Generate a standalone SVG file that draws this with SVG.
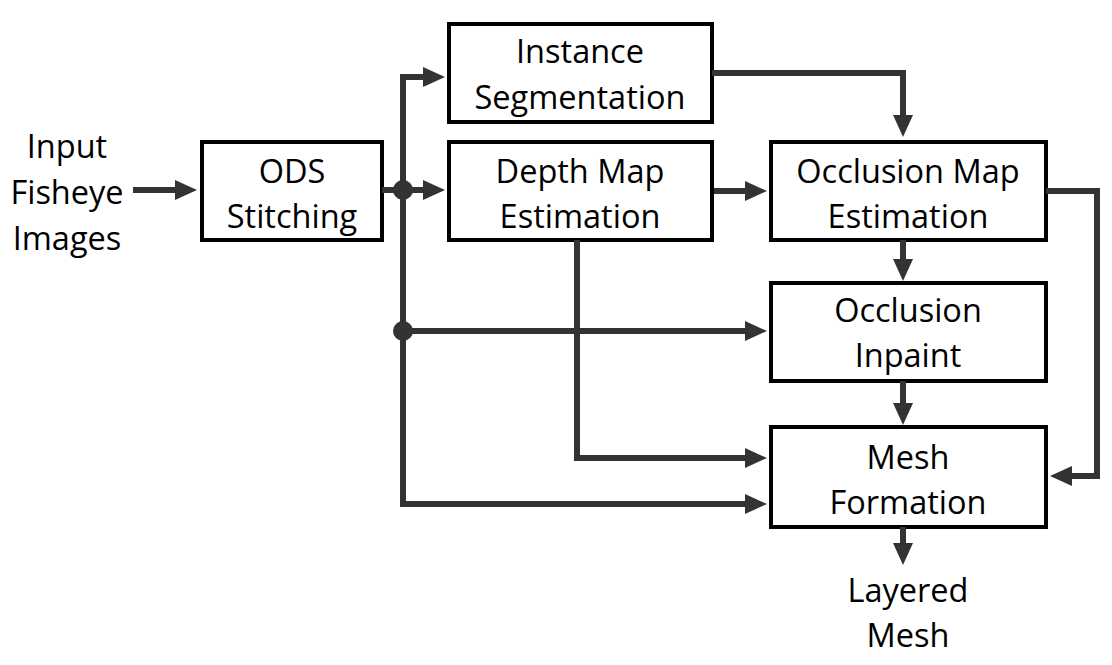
<svg xmlns="http://www.w3.org/2000/svg" width="1112" height="665" viewBox="0 0 1112 665">
<defs>
<style>
.box{fill:#fff;stroke:#000;stroke-width:4}
.t{font-family:"Open Sans",Lato,"Liberation Sans",sans-serif;font-size:32.5px;fill:#000;text-anchor:middle}
.c{fill:none;stroke:#333;stroke-width:6;stroke-linejoin:miter}
.dot{fill:#333}
</style>
<marker id="ah" markerWidth="8" markerHeight="8" refX="0" refY="4" orient="auto" markerUnits="userSpaceOnUse" viewBox="0 0 8 8" overflow="visible">
<path d="M-3,-6 L19,4 L-3,14 Z" fill="#333"/>
</marker>
</defs>
<rect width="1112" height="665" fill="#fff"/>
<g id="input"><text class="t" x="67" y="158">Input</text><text class="t" x="67" y="204">Fisheye</text><text class="t" x="67" y="250">Images</text></g>
<g id="ods"><rect class="box" x="202" y="142" width="180" height="98"/><text class="t" x="292" y="183">ODS</text><text class="t" x="292" y="228">Stitching</text></g>
<g id="instance"><rect class="box" x="449" y="24" width="263" height="98"/><text class="t" x="580" y="63">Instance</text><text class="t" x="580" y="109">Segmentation</text></g>
<g id="depth"><rect class="box" x="449" y="142" width="263" height="98"/><text class="t" x="580" y="183">Depth Map</text><text class="t" x="580" y="228">Estimation</text></g>
<g id="occmap"><rect class="box" x="771" y="142" width="275" height="98"/><text class="t" x="908" y="183">Occlusion Map</text><text class="t" x="908" y="228">Estimation</text></g>
<g id="inpaint"><rect class="box" x="771" y="283" width="275" height="98"/><text class="t" x="908" y="322">Occlusion</text><text class="t" x="908" y="367">Inpaint</text></g>
<g id="mesh"><rect class="box" x="771" y="427" width="275" height="100"/><text class="t" x="908" y="469">Mesh</text><text class="t" x="908" y="514">Formation</text></g>
<g id="output"><text class="t" x="908" y="602">Layered</text><text class="t" x="908" y="647">Mesh</text></g>
<g id="connectors">
<path class="c" d="M133,190 H178" marker-end="url(#ah)"/>
<path class="c" d="M382,190 H426" marker-end="url(#ah)"/>
<path class="c" d="M403,190 V77 H426" marker-end="url(#ah)"/>
<path class="c" d="M403,190 V504 H748" marker-end="url(#ah)"/>
<path class="c" d="M403,331 H748" marker-end="url(#ah)"/>
<path class="c" d="M577,240 V458 H748" marker-end="url(#ah)"/>
<path class="c" d="M714,191 H748" marker-end="url(#ah)"/>
<path class="c" d="M712,73 H903 V118" marker-end="url(#ah)"/>
<path class="c" d="M903,240 V262" marker-end="url(#ah)"/>
<path class="c" d="M903,381 V406" marker-end="url(#ah)"/>
<path class="c" d="M903,527 V546" marker-end="url(#ah)"/>
<path class="c" d="M1046,191 H1097 V476 H1069" marker-end="url(#ah)"/>
<circle class="dot" cx="403" cy="190" r="10"/>
<circle class="dot" cx="403" cy="331" r="10"/>
</g>
</svg>
